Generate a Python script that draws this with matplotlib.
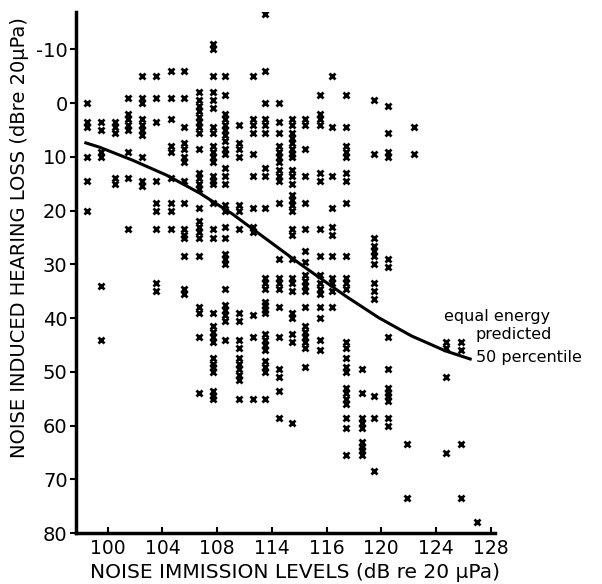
import matplotlib.pyplot as plt

# columnas de puntos (nivel de inmisión, dB) y pérdidas auditivas en cada columna
col_x = [98.5, 99.5, 100.5, 101.5, 102.5, 103.5, 104.6, 105.6, 106.7, 107.7,
         108.6, 109.6, 110.6, 111.5, 112.5, 113.5, 114.4, 115.5, 116.4, 117.4,
         118.6, 119.5, 120.5, 121.9, 122.4, 124.7, 125.8, 127.0]
col_y = [
    [0, 3.5, 4.5, 10, 14.5, 20],
    [3.5, 5, 9, 10, 34, 44],
    [3.5, 4.5, 5.5, 14, 15],
    [-1, 2, 3, 4, 5, 9, 14, 23.5],
    [-5, -1, 0, 3, 4, 5, 6, 10, 14.5, 15.5],
    [-5, -1, 3.5, 14.5, 18.5, 20, 23.5, 33.5, 35],
    [-6, -1, 3, 8, 9, 14, 18.5, 20, 23.5],
    [-6, -1, 4.5, 7.5, 8.5, 10, 11, 14.5, 18.5, 23.5, 24.5, 25, 28.5, 34.5, 35.5],
    [-2, -0.5, 0.5, 1.5, 2.5, 3.5, 4.5, 5.5, 8.5, 13, 14, 15, 16, 19.5, 22, 23,
     24, 25, 28.5, 38, 39, 43.5, 54],
    [-11, -10, -5, -2, -0.5, 1, 4.5, 5.5, 8, 9, 10, 11, 13.5, 14.5, 15, 18.5,
     23.5, 25, 39, 41.5, 42.5, 43.5, 44.5, 47.5, 48.5, 49, 50, 53.5, 54.5, 55],
    [-5, -1.5, 2, 3, 4, 5, 6, 7, 8.5, 9.5, 12, 13.5, 15, 19, 20, 23, 25, 28, 29,
     30, 34.5, 37.5, 38.5, 39.5, 40.5, 44],
    [4, 7.5, 8.5, 10, 19, 20, 23.5, 39, 40.5, 44, 45.5, 47.5, 48.5, 49.5, 50.5,
     51.5, 55],
    [-5, 3, 4, 5.5, 9.5, 13.5, 19.5, 23, 24, 39.5, 43.5, 55],
    [-16.5, -6, 0, 3, 4, 5.5, 12, 13.5, 19.5, 32.5, 33.5, 34.5, 37, 37.5, 38.5,
     39, 43, 44, 45, 46, 48, 49, 50, 55],
    [0, 3.5, 5.5, 8, 9, 10, 11, 12.5, 13.5, 14.5, 18.5, 29, 32.5, 33.5, 34.5, 38,
     43.5, 49.5, 51, 53.5, 58.5],
    [3, 4, 5.5, 6.5, 7.5, 8.5, 9.5, 10, 12.5, 13.5, 15, 17, 18, 19, 20, 23.5,
     24.5, 29, 32.5, 33.5, 35, 39, 40, 43, 44.5, 59.5],
    [3, 4, 8.5, 13.5, 18.5, 23.5, 27.5, 29.5, 32, 33, 34, 35, 38, 41.5, 42.5,
     43.5, 44.5, 45.5, 49],
    [-1.5, 2, 3, 4, 13, 14.5, 23.5, 28.5, 32, 33.5, 34.5, 35.5, 38, 40, 44, 46],
    [-5, 4.5, 13.5, 19.5, 23, 24.5, 28.5, 32.5, 33.5, 35, 38],
    [-1.5, 4.5, 8, 9, 10, 13, 14.5, 18.5, 28.5, 32.5, 33.5, 34.5, 44.5, 45.5,
     47.5, 49, 50, 53, 54, 55, 56, 58.5, 60.5, 65.5],
    [49.5, 54, 58.5, 59.5, 60.5, 63, 64, 64.5, 65.5],
    [-0.5, 9.5, 25, 26.5, 27.5, 28.5, 30, 33.5, 35, 36.5, 54.5, 58.5, 68.5],
    [0.5, 5.5, 9, 10, 29, 30.5, 43.5, 49.5, 53, 54, 54.5, 55.5, 58.5, 60],
    [63.5, 73.5],
    [4.5, 9.5],
    [44.5, 45.5, 51, 65],
    [44.5, 46, 63.5, 73.5],
    [78],
]

# curva "equal energy predicted 50 percentile"
curve_x = [98.4, 99.4, 101.8, 104.3, 106.7, 109.1, 111.6, 114.0, 115.5, 117.4,
           119.8, 122.2, 124.7, 126.5]
curve_y = [7.4, 8.2, 10.6, 13.4, 16.7, 20.6, 25.3, 29.8, 32.5, 35.9, 39.9,
           43.3, 46.1, 47.6]

x_ticks = [100, 104, 108, 112, 116, 120, 124, 128]
x_labels = ["100", "104", "108", "114", "116", "120", "124", "128"]
y_ticks = [-10, 0, 10, 20, 30, 40, 50, 60, 70, 80]
y_labels = ["-10", "0", "10", "20", "30", "40", "50", "60", "70", "80"]

plt.rcParams['font.family'] = ['DejaVu Sans']

fig = plt.figure(figsize=(6.02, 5.84), dpi=100)
ax = fig.add_axes([0.126, 0.087, 0.696, 0.892])

xs, ys = [], []
for x, yy in zip(col_x, col_y):
    for y in yy:
        xs.append(x)
        ys.append(y)
ax.plot(xs, ys, linestyle='none', marker='x', color='black',
        markersize=4.5, markeredgewidth=2.0)

ax.plot(curve_x, curve_y, color='black', linewidth=2.2)

ax.text(124.6, 39.6, "equal energy", fontsize=11.5, ha='left', va='center')
ax.text(126.9, 43.1, "predicted", fontsize=11.5, ha='left', va='center')
ax.text(126.9, 47.4, "50 percentile", fontsize=11.5, ha='left', va='center')

ax.set_xlim(97.67, 128.3)
ax.set_ylim(80, -16.9)
ax.set_xticks(x_ticks)
ax.set_xticklabels(x_labels, fontsize=13.5)
ax.set_yticks(y_ticks)
ax.set_yticklabels(y_labels, fontsize=14)
ax.tick_params(axis='y', direction='out', length=4, width=1.5, pad=2)
ax.tick_params(axis='x', direction='in', length=4, width=1.5, pad=4)

for s in ['top', 'right']:
    ax.spines[s].set_visible(False)
for s in ['left', 'bottom']:
    ax.spines[s].set_linewidth(2.5)

fig.text(90 / 602, 1 - 572 / 584, "NOISE IMMISSION LEVELS (dB re 20 μPa)",
         fontsize=14.5, ha='left', va='center')
fig.text(20 / 602, 1 - 458 / 584, "NOISE INDUCED HEARING LOSS (dBre 20μPa)",
         fontsize=14, rotation=90, ha='center', va='bottom')

fig.savefig("out.png", dpi=100)
